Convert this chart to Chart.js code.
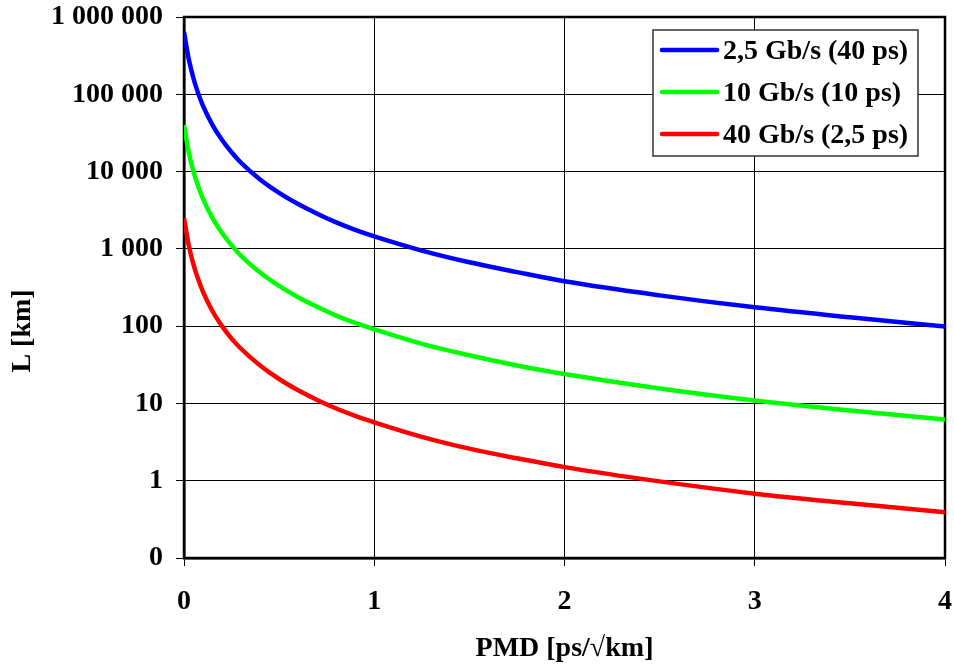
<!DOCTYPE html>
<html>
<head>
<meta charset="utf-8">
<script src="https://cdn.jsdelivr.net/npm/chart.js@4/dist/chart.umd.min.js"></script>
<style>
  html, body { margin: 0; padding: 0; background: #fff; }
  #wrap { width: 954px; height: 668px; }
</style>
</head>
<body>
<div id="wrap"><canvas id="pmdChart" width="954" height="668"></canvas></div>
<script>
  // PMD coefficient [ps/sqrt(km)]
  var pmd = [0, 0.025, 0.05, 0.075, 0.1, 0.15, 0.2, 0.25, 0.3, 0.4, 0.5, 0.6, 0.7,
    0.8, 0.9, 1.0, 1.25, 1.5, 1.75, 2.0, 2.5, 3.0, 3.5, 4.0];

  // maximum link length L [km] per bit rate
  var len25G = [640000, 285000, 160000, 102000, 71000, 40000, 25600, 17800, 13000,
    7900, 5300, 3800, 2850, 2200, 1760, 1450, 950, 670, 500, 380, 250, 175, 130, 99];
  var len10G = [40000, 17800, 10000, 6400, 4440, 2500, 1600, 1110, 810, 494, 331,
    237, 178, 137, 110, 91, 59, 42, 31, 24, 15.6, 10.9, 8.1, 6.2];
  var len40G = [2500, 1110, 625, 400, 278, 156, 100, 69, 51, 31, 20.7, 14.8, 11.1,
    8.6, 6.9, 5.7, 3.7, 2.6, 1.95, 1.5, 0.98, 0.68, 0.51, 0.39];

  var seriesLabels = ['2,5 Gb/s (40 ps)', '10 Gb/s (10 ps)', '40 Gb/s (2,5 ps)'];
  var seriesColors = ['#0000ff', '#00ff00', '#ff0000'];

  var yTickValues = [0.1, 1, 10, 100, 1000, 10000, 100000, 1000000];
  var yTickLabels = ['0', '1', '10', '100', '1 000', '10 000', '100 000', '1 000 000'];
  var xTickValues = [0, 1, 2, 3, 4];
  var yTitle = 'L [km]';

  var FONT = 'Liberation Serif, Times New Roman, serif';
  var FONT_SIZE = 28;

  function toPoints(ys) {
    return pmd.map(function (x, i) { return { x: x, y: ys[i] }; });
  }

  // plot frame drawn on all four sides
  var frame = {
    id: 'frame',
    beforeDatasetsDraw: function (chart) {
      var a = chart.chartArea, ctx = chart.ctx;
      ctx.save();
      ctx.strokeStyle = '#000';
      ctx.lineWidth = 2.5;
      ctx.strokeRect(a.left, a.top, a.right - a.left, a.bottom - a.top);
      ctx.restore();
    }
  };

  // vertical axis title, sitting a bit below the middle of the axis
  var sideTitle = {
    id: 'sideTitle',
    afterDraw: function (chart) {
      var a = chart.chartArea, ctx = chart.ctx;
      ctx.save();
      ctx.translate(23, a.bottom - 227);
      ctx.rotate(-Math.PI / 2);
      ctx.font = 'bold ' + FONT_SIZE + 'px ' + FONT;
      ctx.fillStyle = '#000';
      ctx.textAlign = 'center';
      ctx.textBaseline = 'middle';
      ctx.fillText(yTitle, 0, 0);
      ctx.restore();
    }
  };

  // boxed legend in the upper right corner
  var boxLegend = {
    id: 'boxLegend',
    afterDraw: function (chart) {
      var a = chart.chartArea, ctx = chart.ctx;
      var w = 265, h = 126;
      var bx = a.right - 27 - w, by = a.top + 13;
      ctx.save();
      ctx.fillStyle = '#fff';
      ctx.fillRect(bx, by, w, h);
      ctx.strokeStyle = '#333';
      ctx.lineWidth = 1.5;
      ctx.strokeRect(bx, by, w, h);
      ctx.font = 'bold ' + FONT_SIZE + 'px ' + FONT;
      ctx.textBaseline = 'middle';
      ctx.fillStyle = '#000';
      chart.data.datasets.forEach(function (ds, i) {
        var cy = by + 20 + i * 42;
        ctx.strokeStyle = ds.borderColor;
        ctx.lineWidth = 4.5;
        ctx.lineCap = 'round';
        ctx.beginPath();
        ctx.moveTo(bx + 9, cy);
        ctx.lineTo(bx + 64, cy);
        ctx.stroke();
        ctx.fillText(ds.label, bx + 70, cy + 2);
      });
      ctx.restore();
    }
  };

  var ctx = document.getElementById('pmdChart').getContext('2d');
  new Chart(ctx, {
    type: 'line',
    data: {
      datasets: [len25G, len10G, len40G].map(function (ys, i) {
        return {
          label: seriesLabels[i],
          data: toPoints(ys),
          borderColor: seriesColors[i],
          backgroundColor: seriesColors[i],
          borderWidth: 4.5,
          pointRadius: 0,
          fill: false,
          cubicInterpolationMode: 'monotone'
        };
      })
    },
    options: {
      responsive: false,
      animation: false,
      layout: { padding: { left: 0, right: 9, top: 17, bottom: 0 } },
      plugins: {
        legend: { display: false },
        tooltip: { enabled: false }
      },
      scales: {
        x: {
          type: 'linear',
          min: 0,
          max: 4,
          afterFit: function (s) {
            s.height = 110;
            s.paddingLeft = 0;
            s.paddingRight = 0;
          },
          afterBuildTicks: function (s) {
            s.ticks = xTickValues.map(function (v) { return { value: v }; });
          },
          ticks: {
            color: '#000',
            padding: 19,
            maxRotation: 0,
            font: { family: FONT, size: FONT_SIZE, weight: 'bold' }
          },
          grid: { color: '#000', lineWidth: 1, tickLength: 8 },
          border: { color: '#000', width: 2.5 },
          title: {
            display: true,
            text: 'PMD [ps/\u221Akm]',
            color: '#000',
            padding: { top: 0, bottom: 2 },
            font: { family: FONT, size: FONT_SIZE, weight: 'bold' }
          }
        },
        y: {
          type: 'logarithmic',
          min: 0.1,
          max: 1000000,
          afterFit: function (s) {
            s.width = 184;
            s.paddingTop = 0;
            s.paddingBottom = 0;
          },
          afterBuildTicks: function (s) {
            s.ticks = yTickValues.map(function (v) { return { value: v }; });
          },
          ticks: {
            color: '#000',
            padding: 13,
            font: { family: FONT, size: FONT_SIZE, weight: 'bold' },
            callback: function (v) {
              var i = yTickValues.indexOf(v);
              return i >= 0 ? yTickLabels[i] : '';
            }
          },
          grid: { color: '#000', lineWidth: 1, tickLength: 8 },
          border: { color: '#000', width: 2.5 },
          title: { display: false }
        }
      }
    },
    plugins: [frame, sideTitle, boxLegend]
  });
</script>
</body>
</html>
